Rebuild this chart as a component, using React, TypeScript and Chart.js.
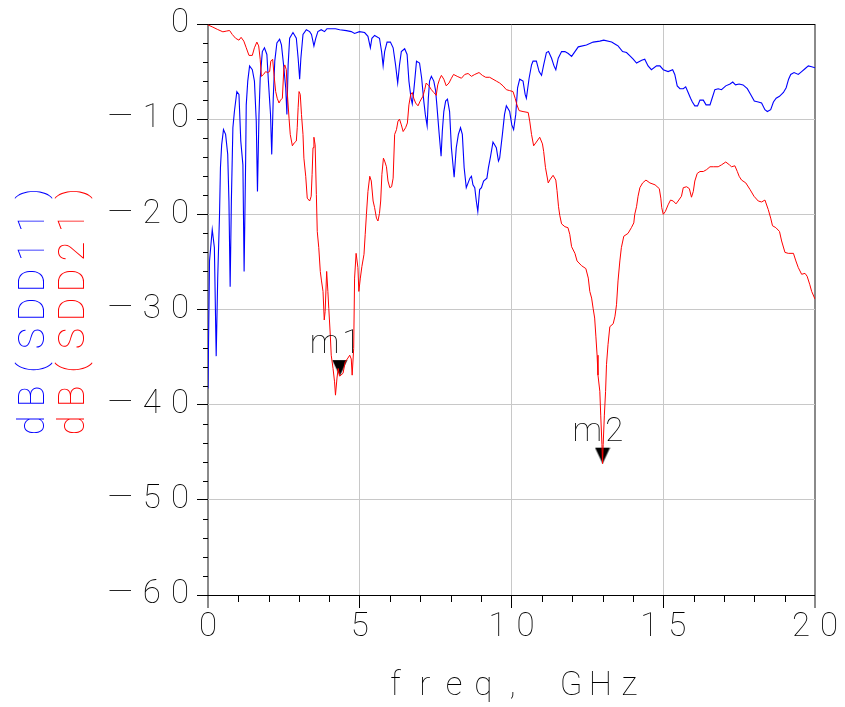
import React, { useEffect, useRef } from 'react';
import { Chart, registerables } from 'chart.js';

Chart.register(...registerables);

// ---------- data ----------
const sdd11Freq = [
  0.00, 0.05, 0.14, 0.21, 0.27, 0.32, 0.38, 0.41, 0.45, 0.51, 0.58, 0.65, 0.69, 0.73, 0.77, 0.82, 0.87, 0.95,
  1.02, 1.08, 1.15, 1.19, 1.24, 1.26, 1.31, 1.37, 1.46, 1.53, 1.59, 1.63, 1.68, 1.72, 1.79, 1.86, 1.94, 1.99,
  2.06, 2.10, 2.15, 2.20, 2.27, 2.36, 2.42, 2.49, 2.56, 2.60, 2.64, 2.69, 2.80, 2.91, 2.97, 3.02, 3.06, 3.13,
  3.24, 3.35, 3.41, 3.49, 3.55, 3.62, 3.73, 3.84, 3.92, 4.01, 4.20, 4.34, 4.56, 4.72, 4.83, 4.99, 5.16, 5.27,
  5.35, 5.40, 5.49, 5.65, 5.72, 5.77, 5.82, 5.90, 6.01, 6.10, 6.18, 6.25, 6.31, 6.37, 6.48, 6.56, 6.62, 6.69,
  6.73, 6.78, 6.81, 6.87, 6.97, 7.04, 7.11, 7.16, 7.22, 7.26, 7.30, 7.36, 7.44, 7.50, 7.54, 7.61, 7.68, 7.72,
  7.77, 7.83, 7.89, 7.96, 8.02, 8.11, 8.18, 8.25, 8.32, 8.38, 8.44, 8.51, 8.57, 8.63, 8.68, 8.73, 8.79, 8.84,
  8.89, 8.95, 9.01, 9.08, 9.19, 9.24, 9.31, 9.39, 9.50, 9.57, 9.61, 9.70, 9.77, 9.83, 9.94, 10.01, 10.07, 10.14,
  10.20, 10.27, 10.38, 10.45, 10.49, 10.58, 10.66, 10.71, 10.82, 10.91, 10.99, 11.06, 11.15, 11.22, 11.32,
  11.40, 11.46, 11.54, 11.65, 11.76, 11.87, 11.98, 12.09, 12.20, 12.47, 12.69, 12.91, 13.04, 13.30, 13.46,
  13.51, 13.66, 13.79, 13.92, 14.01, 14.12, 14.29, 14.39, 14.50, 14.61, 14.78, 14.89, 15.00, 15.16, 15.31,
  15.38, 15.46, 15.55, 15.66, 15.74, 15.82, 15.90, 15.96, 16.04, 16.13, 16.21, 16.32, 16.41, 16.54, 16.61,
  16.70, 16.81, 16.92, 17.06, 17.20, 17.29, 17.38, 17.50, 17.63, 17.77, 17.88, 18.00, 18.13, 18.24, 18.35,
  18.43, 18.54, 18.63, 18.72, 18.83, 18.96, 19.05, 19.13, 19.20, 19.31, 19.45, 19.56, 19.67, 19.78, 19.89, 20.00,
];
const sdd11Db = [
  -38.3, -24.9, -21.6, -23.5, -34.9, -26.7, -20.0, -15.1, -12.7, -11.1, -11.6, -13.7, -18.6, -27.6, -18.6, -10.9, -9.2, -7.1,
  -7.4, -12.3, -14.8, -26.0, -14.4, -8.5, -6.0, -4.4, -4.8, -6.0, -10.2, -17.6, -9.5, -5.7, -2.9, -2.5, -3.2, -6.0,
  -9.5, -13.7, -7.8, -3.9, -2.0, -1.6, -2.2, -4.3, -6.7, -9.5, -4.3, -1.5, -0.9, -1.5, -3.6, -5.8, -3.6, -1.1,
  -0.6, -0.8, -1.1, -2.3, -1.5, -0.8, -0.6, -0.8, -0.5, -0.5, -0.5, -0.6, -0.7, -0.8, -1.0, -0.8, -0.9, -1.3,
  -2.5, -1.5, -1.2, -1.5, -2.9, -4.4, -2.9, -1.9, -1.9, -2.5, -4.3, -6.2, -4.3, -2.9, -2.6, -3.2, -6.0, -7.8,
  -8.4, -7.0, -6.0, -3.9, -4.1, -5.7, -8.1, -9.5, -10.7, -7.8, -6.0, -5.5, -6.0, -7.0, -8.5, -11.3, -13.9, -11.3,
  -9.2, -8.1, -7.9, -9.2, -13.0, -16.1, -13.0, -11.6, -10.9, -11.6, -15.1, -17.2, -16.7, -16.2, -16.0, -16.9, -17.2, -18.6,
  -19.7, -17.4, -17.2, -16.5, -16.2, -15.1, -13.9, -12.4, -13.0, -14.4, -14.1, -11.6, -9.5, -8.6, -9.2, -10.6, -11.1, -9.5,
  -6.7, -5.8, -6.0, -7.4, -7.8, -5.7, -4.3, -3.9, -3.9, -5.0, -5.4, -4.3, -3.0, -2.9, -3.6,
  -4.4, -4.8, -3.6, -2.9, -2.9, -3.1, -3.4, -2.9, -2.4, -2.2, -1.9, -1.8, -1.7, -1.9, -2.2,
  -2.3, -2.9, -3.0, -3.4, -3.7, -4.1, -3.8, -3.7, -4.4, -4.8, -4.4, -4.4, -4.8, -5.0, -4.8,
  -5.3, -6.5, -6.8, -6.8, -6.6, -7.2, -7.8, -8.2, -8.6, -8.6, -8.0, -8.0, -8.5, -8.5, -7.8,
  -6.9, -6.8, -6.9, -6.5, -6.3, -6.1, -6.4, -6.3, -6.4, -6.8, -7.4, -8.1, -8.2, -8.3, -9.0,
  -9.2, -9.0, -8.2, -7.8, -7.6, -7.2, -6.7, -5.8, -5.3, -5.1, -5.3, -5.0, -4.7, -4.4, -4.5, -4.6,
];

const sdd21Freq = [
  0.00, 0.16, 0.32, 0.49, 0.60, 0.71, 0.80, 0.91, 1.02, 1.09, 1.18, 1.26, 1.35, 1.46, 1.53, 1.61, 1.67, 1.72,
  1.76, 1.83, 1.90, 1.96, 2.03, 2.07, 2.13, 2.18, 2.23, 2.28, 2.34, 2.39, 2.45, 2.50, 2.53, 2.58, 2.61, 2.67,
  2.71, 2.78, 2.84, 2.91, 2.94, 2.97, 3.00, 3.04, 3.08, 3.13, 3.16, 3.22, 3.27, 3.35, 3.40, 3.43, 3.46, 3.49,
  3.53, 3.57, 3.60, 3.65, 3.70, 3.74, 3.79, 3.83, 3.86, 3.91, 3.95, 3.98, 4.03, 4.06, 4.12, 4.17, 4.20, 4.25,
  4.29, 4.34, 4.45, 4.52, 4.59, 4.67, 4.72, 4.75, 4.80, 4.83, 4.88, 4.94, 4.97, 5.02, 5.07, 5.14, 5.18, 5.22,
  5.27, 5.33, 5.38, 5.44, 5.49, 5.55, 5.60, 5.65, 5.69, 5.73, 5.78, 5.82, 5.88, 5.93, 5.99, 6.05, 6.10, 6.15,
  6.21, 6.26, 6.31, 6.37, 6.43, 6.51, 6.57, 6.62, 6.68, 6.73, 6.78, 6.84, 6.92, 6.99, 7.08, 7.14, 7.19, 7.28,
  7.36, 7.44, 7.52, 7.57, 7.63, 7.69, 7.77, 7.85, 7.94, 8.02, 8.09, 8.21, 8.35, 8.46, 8.57, 8.68, 8.79, 8.93,
  9.04, 9.15, 9.28, 9.39, 9.50, 9.61, 9.72, 9.83, 9.94, 10.05, 10.12, 10.18, 10.25, 10.38, 10.55, 10.60, 10.66,
  10.73, 10.82, 10.93, 11.02, 11.06, 11.12, 11.21, 11.28, 11.37, 11.46, 11.50, 11.55, 11.59, 11.65, 11.76,
  11.86, 11.92, 11.98, 12.09, 12.16, 12.31, 12.45, 12.53, 12.58, 12.64, 12.69, 12.74, 12.78, 12.82, 12.85,
  12.91, 12.94, 12.98, 13.00, 13.02, 13.06, 13.10, 13.13, 13.18, 13.24, 13.35, 13.41, 13.46, 13.51, 13.57,
  13.62, 13.70, 13.84, 13.95, 14.03, 14.06, 14.12, 14.17, 14.23, 14.32, 14.43, 14.56, 14.73, 14.87, 14.92,
  14.95, 15.00, 15.07, 15.16, 15.24, 15.33, 15.42, 15.49, 15.60, 15.66, 15.77, 15.86, 15.93, 15.99, 16.04,
  16.12, 16.21, 16.32, 16.43, 16.54, 16.65, 16.81, 16.92, 17.06, 17.18, 17.25, 17.36, 17.44, 17.50, 17.58,
  17.72, 17.86, 17.99, 18.13, 18.24, 18.35, 18.46, 18.54, 18.60, 18.71, 18.83, 18.90, 19.01, 19.12, 19.29,
  19.37, 19.45, 19.56, 19.67, 19.74, 19.83, 19.89, 20.00,
];
const sdd21Db = [
  -0.1, -0.33, -0.58, -0.82, -0.75, -0.68, -1.1, -1.5, -1.7, -1.4, -1.8, -2.5, -3.3, -3.3, -2.5, -1.9, -2.3, -3.7,
  -5.5, -5.3, -5.0, -5.1, -5.0, -3.9, -3.7, -5.5, -7.1, -7.8, -8.3, -8.0, -7.8, -4.6, -4.3, -4.8, -7.1, -9.9,
  -11.6, -12.8, -12.5, -12.3, -10.9, -8.8, -7.1, -7.4, -9.5, -11.6, -14.1, -16.0, -18.3, -18.6, -18.1, -15.8, -13.0, -11.9,
  -12.7, -17.9, -21.8, -23.5, -26.0, -27.0, -28.1, -31.1, -30.2, -26.0, -28.1, -29.9, -32.7, -34.8, -36.2, -37.6, -39.0, -37.2,
  -36.2, -37.0, -36.7, -35.5, -35.2, -34.8, -35.2, -36.9, -34.1, -26.7, -24.1, -25.6, -28.1, -26.7, -25.5, -24.2, -22.1, -20.0,
  -17.6, -16.0, -16.5, -18.6, -19.3, -20.4, -20.7, -19.9, -18.6, -15.8, -14.1, -14.4, -15.0, -16.5, -17.2, -17.1, -16.2, -11.6,
  -11.1, -10.2, -10.0, -10.6, -11.3, -10.9, -10.4, -8.5, -7.4, -7.2, -7.8, -8.3, -8.6, -8.1, -7.6, -6.9, -6.2, -6.5,
  -6.9, -7.2, -7.5, -6.4, -5.8, -5.4, -5.8, -6.5, -6.2, -5.7, -5.3, -5.5, -5.7, -5.3, -5.2, -5.5, -5.3, -5.1,
  -5.4, -5.6, -5.6, -5.8, -6.0, -6.2, -6.5, -6.9, -7.0, -7.1, -7.8, -8.5, -9.1, -9.2, -9.3, -10.2, -11.6,
  -12.8, -12.4, -11.9, -12.6, -13.4, -15.1, -16.7, -16.3, -15.9, -16.4, -17.5, -19.2, -20.1, -21.0, -21.3,
  -21.4, -22.1, -23.4, -24.1, -24.9, -25.4, -25.7, -26.7, -28.1, -28.8, -29.9, -30.9, -32.8, -34.8, -36.9,
  -38.6, -41.1, -44.2, -46.2, -44.2, -41.1, -38.6, -35.8, -33.7, -31.8, -31.5, -30.7, -29.5, -27.0, -24.9,
  -23.5, -22.3, -22.0, -21.4, -20.9, -20.0, -19.2, -18.1, -17.2, -16.7, -16.4, -16.7, -16.9, -17.3, -18.3,
  -19.3, -20.0, -19.7, -19.0, -18.5, -18.6, -18.9, -18.6, -18.1, -17.2, -17.1, -17.3, -18.2, -17.6, -16.5,
  -15.7, -15.5, -15.5, -15.3, -15.0, -15.0, -15.0, -14.8, -14.5, -14.8, -15.0, -14.9, -15.5, -16.0, -16.4,
  -16.7, -17.4, -18.1, -18.6, -18.7, -18.5, -19.5, -20.4, -21.2, -21.4, -21.8, -22.8, -24.0, -24.1, -24.1,
  -24.9, -25.6, -26.3, -26.2, -26.5, -27.4, -28.1, -28.9,
];

const markerNames = ['m1', 'm2'];
const markerFreq = [4.34, 13.0];
const markerDb = [-37.0, -46.2];

const xTickValues = [0, 5, 10, 15, 20];
const yTickValues = [0, -10, -20, -30, -40, -50, -60];
const xTitle = 'freq, GHz';
const yTitles = ['dB(SDD11)', 'dB(SDD21)'];
const seriesColors = ['#0000ff', '#ff0000'];

// ---------- styling ----------
const FONT_FAMILY = 'Roboto, "DejaVu Sans", sans-serif';
const FONT_WEIGHT = '100';
const FONT_SIZE = 33;
const GRID_COLOR = '#c8c8c8';
const EDGE_COLOR = '#8a8a8a';

function makeTriangle(): HTMLCanvasElement {
  const c = document.createElement('canvas');
  c.width = 16;
  c.height = 34;
  const g = c.getContext('2d') as CanvasRenderingContext2D;
  g.fillStyle = '#000';
  g.beginPath();
  g.moveTo(0.5, 1);
  g.lineTo(15.5, 1);
  g.lineTo(8, 17);
  g.closePath();
  g.fill();
  return c;
}

function drawPitched(ctx: CanvasRenderingContext2D, text: string, cx: number, baseline: number, pitch: number) {
  const n = text.length;
  const start = cx - (n * pitch) / 2;
  ctx.textAlign = 'center';
  ctx.textBaseline = 'alphabetic';
  for (let i = 0; i < n; i++) {
    ctx.fillText(text[i], start + pitch * (i + 0.5), baseline);
  }
}

const adsPlugin = {
  id: 'adsDecor',
  beforeDraw(chart: any) {
    chart.ctx.letterSpacing = '10px';
  },
  beforeDatasetsDraw(chart: any) {
    const ctx = chart.ctx as CanvasRenderingContext2D;
    (ctx as any).letterSpacing = '0px';
    const { left, bottom } = chart.chartArea;
    const xs = chart.scales.x;
    const ys = chart.scales.y;
    ctx.save();
    ctx.strokeStyle = '#000';
    ctx.lineWidth = 1;
    ctx.beginPath();
    for (let v = ys.min; v <= ys.max; v += 2) {
      if (Math.abs(v % 10) < 1e-9) continue;
      const py = Math.round(ys.getPixelForValue(v)) + 0.5;
      ctx.moveTo(left - 5, py);
      ctx.lineTo(left, py);
    }
    for (let v = xs.min; v <= xs.max; v += 1) {
      if (Math.abs(v % 5) < 1e-9) continue;
      const px = Math.round(xs.getPixelForValue(v)) + 0.5;
      ctx.moveTo(px, bottom);
      ctx.lineTo(px, bottom + 7);
    }
    ctx.stroke();
    ctx.restore();
  },
  afterDraw(chart: any) {
    const ctx = chart.ctx as CanvasRenderingContext2D;
    (ctx as any).letterSpacing = '0px';
    const area = chart.chartArea;
    ctx.save();
    ctx.font = `${FONT_WEIGHT} ${FONT_SIZE}px ${FONT_FAMILY}`;
    // x axis title
    ctx.fillStyle = '#000';
    drawPitched(ctx, xTitle, (area.left + area.right) / 2 + 1, 695, 29.25);
    // y axis titles (two coloured lines)
    ctx.font = `${FONT_WEIGHT} 36px ${FONT_FAMILY}`;
    const cy = (area.top + area.bottom) / 2;
    const baseX = [44, 84];
    yTitles.forEach((t, i) => {
      ctx.save();
      ctx.translate(baseX[i], cy);
      ctx.rotate(-Math.PI / 2);
      ctx.fillStyle = seriesColors[i];
      drawPitched(ctx, t, 0, 0, 29);
      ctx.restore();
    });
    // marker labels
    ctx.font = `${FONT_WEIGHT} ${FONT_SIZE}px ${FONT_FAMILY}`;
    const meta = chart.getDatasetMeta(2);
    ctx.fillStyle = '#000';
    ctx.textAlign = 'left';
    ctx.textBaseline = 'alphabetic';
    (ctx as any).letterSpacing = '3px';
    meta.data.forEach((el: any, i: number) => {
      ctx.fillText(markerNames[i], el.x - 30, el.y - 23);
    });
    (ctx as any).letterSpacing = '0px';
    ctx.restore();
  },
};

export default function App() {
  const ref = useRef<HTMLCanvasElement | null>(null);

  useEffect(() => {
    document.body.style.margin = '0';
    const canvas = ref.current;
    if (!canvas) return;
    const tri = makeTriangle();
    const tickFont = { family: FONT_FAMILY, size: FONT_SIZE, weight: FONT_WEIGHT as any };
    const fmt = (v: number) => (v < 0 ? '\u2014' + Math.abs(v) : String(v));

    const chart = new Chart(canvas, {
      type: 'line',
      data: {
        datasets: [
          {
            label: 'dB(SDD21)',
            data: sdd21Freq.map((f, i) => ({ x: f, y: sdd21Db[i] })),
            borderColor: seriesColors[1],
            borderWidth: 1,
            pointRadius: 0,
            tension: 0,
            fill: false,
          },
          {
            label: 'dB(SDD11)',
            data: sdd11Freq.map((f, i) => ({ x: f, y: sdd11Db[i] })),
            borderColor: seriesColors[0],
            borderWidth: 1.1,
            pointRadius: 0,
            tension: 0,
            fill: false,
          },
          {
            label: 'markers',
            data: markerFreq.map((f, i) => ({ x: f, y: markerDb[i] })),
            showLine: false,
            pointStyle: tri as any,
            pointRadius: 8,
            borderWidth: 0,
          },
        ],
      },
      options: {
        responsive: false,
        animation: false,
        events: [],
        layout: { padding: { top: 24, right: 30, left: 0, bottom: 0 } },
        plugins: { legend: { display: false }, tooltip: { enabled: false } },
        scales: {
          x: {
            type: 'linear',
            min: 0,
            max: 20,
            afterBuildTicks: (s: any) => {
              s.ticks = xTickValues.map((v) => ({ value: v }));
            },
            afterFit: (s: any) => {
              s.height = 112;
            },
            ticks: {
              font: tickFont,
              color: '#000',
              padding: 0,
              labelOffset: 5,
              maxRotation: 0,
              autoSkip: false,
              callback: (v: any) => fmt(Number(v)),
            },
            grid: {
              color: (c: any) => (c.tick && (c.tick.value === 0 || c.tick.value === 20) ? EDGE_COLOR : GRID_COLOR),
              lineWidth: (c: any) => (c.tick && (c.tick.value === 0 || c.tick.value === 20) ? 2 : 1),
              tickColor: (c: any) => (c.tick && (c.tick.value === 0 || c.tick.value === 20) ? EDGE_COLOR : '#000'),
              tickLength: 13,
              tickWidth: (c: any) => (c.tick && (c.tick.value === 0 || c.tick.value === 20) ? 2 : 1),
            },
            border: { display: false },
          },
          y: {
            type: 'linear',
            min: -60,
            max: 0,
            afterBuildTicks: (s: any) => {
              s.ticks = yTickValues.map((v) => ({ value: v }));
            },
            afterFit: (s: any) => {
              s.width = 208;
            },
            ticks: {
              font: tickFont,
              color: '#000',
              padding: -2,
              autoSkip: false,
              callback: (v: any) => fmt(Number(v)),
            },
            grid: {
              color: (c: any) => (c.tick && (c.tick.value === 0 || c.tick.value === -60) ? '#000' : GRID_COLOR),
              lineWidth: 1,
              tickColor: '#000',
              tickLength: 11,
            },
            border: { display: false },
          },
        },
      },
      plugins: [adsPlugin as any],
    });
    return () => chart.destroy();
  }, []);

  return (
    <div style={{ position: 'absolute', left: 0, top: 0, width: 845, height: 707, background: '#fff' }}>
      <canvas ref={ref} width={845} height={707} style={{ display: 'block', width: 845, height: 707 }} />
    </div>
  );
}
